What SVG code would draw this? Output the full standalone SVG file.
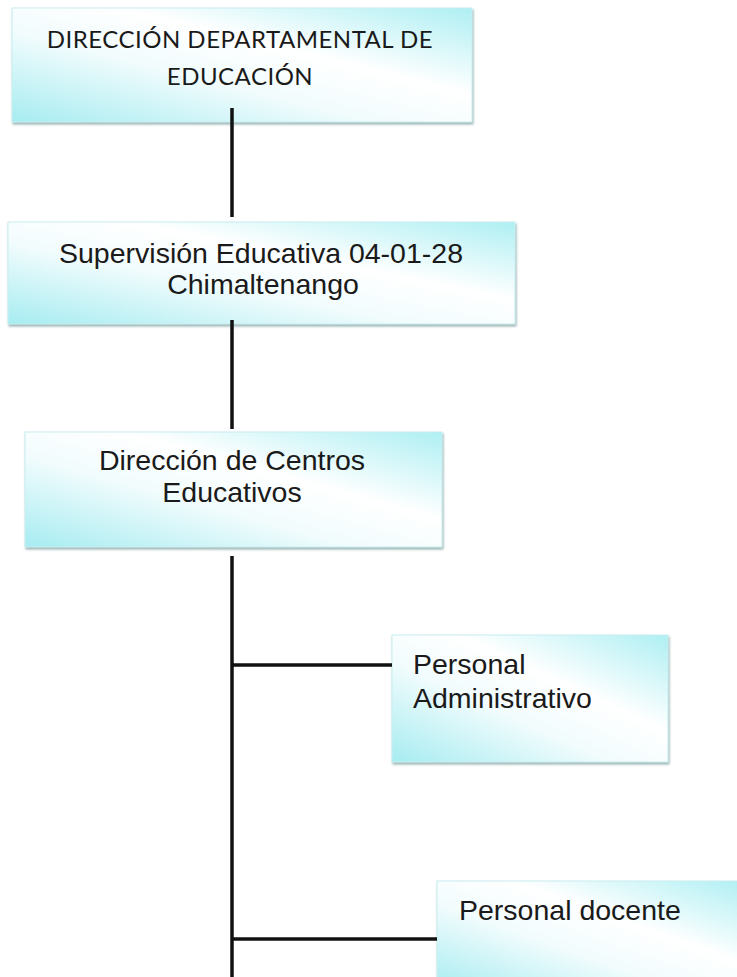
<svg xmlns="http://www.w3.org/2000/svg" width="737" height="977" viewBox="0 0 737 977">
<style>
.box{fill:url(#g);stroke:#c9eef0;stroke-width:1;filter:url(#sh)}
.t1{font-family:Lato,"Open Sans",sans-serif;font-size:24px;letter-spacing:0.5px;fill:#1a1a1a;text-anchor:middle}
.t{font-family:"Liberation Sans",Arial,sans-serif;font-size:28.5px;fill:#1a1a1a}
.m{text-anchor:middle}
.c{stroke:#111;stroke-width:3.5;fill:none}
</style>
<defs>
<linearGradient id="g" x1="0" y1="1" x2="1" y2="0">
<stop offset="0" stop-color="#a6ecf1"/>
<stop offset="0.4" stop-color="#f2fcfd"/>
<stop offset="0.62" stop-color="#ffffff"/>
<stop offset="1" stop-color="#aeeff3"/>
</linearGradient>
<filter id="sh" x="-5%" y="-5%" width="110%" height="115%">
<feDropShadow dx="1" dy="2" stdDeviation="0.8" flood-color="#6f9497" flood-opacity="0.7"/>
</filter>
</defs>
<rect width="737" height="977" fill="#ffffff"/>
<g id="n1">
<rect class="box" x="12" y="8" width="460" height="114"/>
<text class="t1" x="240" y="48">DIRECCIÓN DEPARTAMENTAL DE</text>
<text class="t1" x="240" y="85">EDUCACIÓN</text>
</g>
<g id="n2">
<rect class="box" x="8" y="222" width="507" height="102"/>
<text class="t m" x="261" y="263">Supervisión Educativa 04-01-28</text>
<text class="t m" x="263" y="294">Chimaltenango</text>
</g>
<g id="n3">
<rect class="box" x="25" y="432" width="417" height="115"/>
<text class="t m" x="232" y="470">Dirección de Centros</text>
<text class="t m" x="232" y="502">Educativos</text>
</g>
<g id="n4">
<rect class="box" x="392" y="635" width="276" height="127"/>
<text class="t" x="413" y="674">Personal</text>
<text class="t" x="413" y="708">Administrativo</text>
</g>
<g id="n5">
<rect class="box" x="437" y="881" width="310" height="110"/>
<text class="t" x="459" y="920">Personal docente</text>
</g>
<g id="connectors">
<line class="c" x1="232" y1="108" x2="232" y2="217"/>
<line class="c" x1="232" y1="320" x2="232" y2="429"/>
<line class="c" x1="232" y1="556" x2="232" y2="977"/>
<line class="c" x1="232" y1="665" x2="392" y2="665"/>
<line class="c" x1="232" y1="939" x2="437" y2="939"/>
</g>
</svg>
